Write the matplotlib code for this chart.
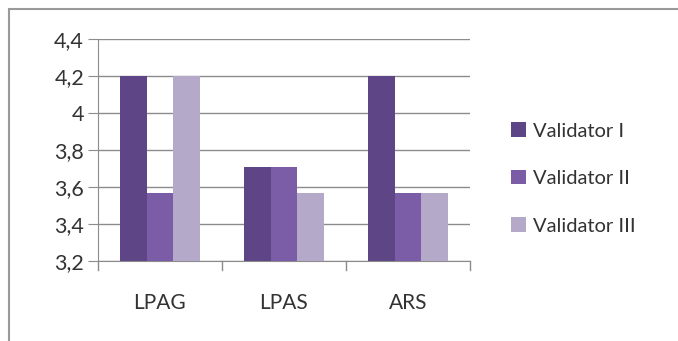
import numpy as np
import matplotlib.pyplot as plt
from matplotlib.patches import Rectangle

plt.rcParams['font.family'] = ['Lato', 'DejaVu Sans']

# data
categories = ['LPAG', 'LPAS', 'ARS']
series_names = ['Validator I', 'Validator II', 'Validator III']
validator_1 = [4.2, 3.71, 4.2]
validator_2 = [3.57, 3.71, 3.57]
validator_3 = [4.2, 3.57, 3.57]
y_ticks = [3.2, 3.4, 3.6, 3.8, 4.0, 4.2, 4.4]
y_tick_labels = ['3,2', '3,4', '3,6', '3,8', '4', '4,2', '4,4']

colors = ['#5e4585', '#7b5ca6', '#b4a9c9']

fig = plt.figure(figsize=(6.78, 3.41), dpi=100)
ax = fig.add_axes([0.1445, 0.2346, 0.5485, 0.651])

x = np.arange(len(categories))
w = 0.215
for i, vals in enumerate([validator_1, validator_2, validator_3]):
    ax.bar(x + (i - 1) * w, np.array(vals) - 3.2, width=w, bottom=3.2,
           color=colors[i], label=series_names[i], zorder=3)

ax.set_xlim(-0.5, 2.5)
ax.set_ylim(3.2, 4.4)
ax.set_yticks(y_ticks)
ax.set_yticklabels(y_tick_labels, fontsize=15.5, color='#333333')
ax.yaxis.grid(True, color='#8c8c8c', linewidth=1, zorder=0)

# category labels, ticks at category boundaries
ax.set_xticks(x)
ax.set_xticklabels(categories, fontsize=15, color='#333333')
ax.tick_params(axis='x', length=0, pad=23)
for b in [-0.5, 0.5, 1.5, 2.5]:
    ax.plot([b, b], [0, -0.04], transform=ax.get_xaxis_transform(),
            color='#8c8c8c', linewidth=1, clip_on=False)
ax.tick_params(axis='y', length=7, color='#8c8c8c', pad=3)

for s in ['top', 'right']:
    ax.spines[s].set_visible(False)
ax.spines['left'].set_color('#8c8c8c')
ax.spines['bottom'].set_color('#8c8c8c')

fig.legend(loc='upper left', bbox_to_anchor=(0.727, 0.695), frameon=False,
           fontsize=14.5, handlelength=0.75, handleheight=0.75,
           handletextpad=0.35, labelspacing=1.5, labelcolor='#333333')

# outer chart border
fig.add_artist(Rectangle((0.0135, -0.1), 1.2, 1.073, transform=fig.transFigure,
                         fill=False, edgecolor='#9a9a9a', linewidth=1.5))

fig.savefig('out.png', dpi=100)
